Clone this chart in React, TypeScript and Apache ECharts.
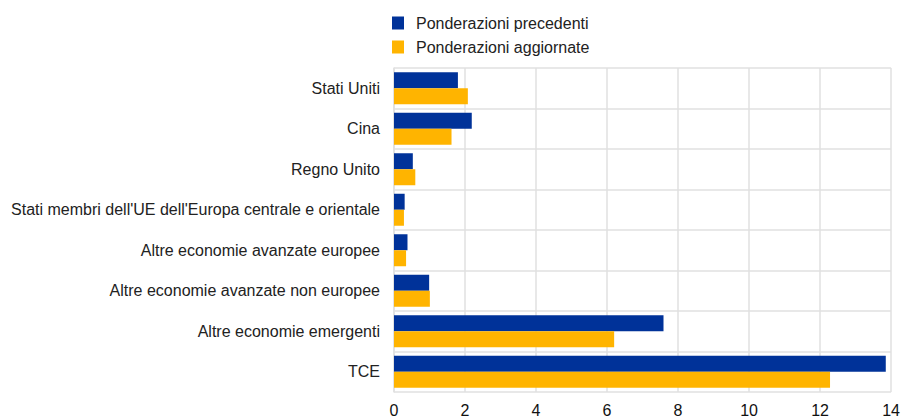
import React, { useEffect, useRef } from "react";
import * as echarts from "echarts";

const categories = [
  "Stati Uniti",
  "Cina",
  "Regno Unito",
  "Stati membri dell'UE dell'Europa centrale e orientale",
  "Altre economie avanzate europee",
  "Altre economie avanzate non europee",
  "Altre economie emergenti",
  "TCE",
];
const previousWeights = [1.8, 2.19, 0.53, 0.3, 0.38, 0.99, 7.59, 13.85];
const updatedWeights = [2.08, 1.62, 0.6, 0.28, 0.34, 1.01, 6.2, 12.28];
const seriesNames = ["Ponderazioni precedenti", "Ponderazioni aggiornate"];

export default function App() {
  const ref = useRef<HTMLDivElement>(null);
  useEffect(() => {
    if (!ref.current) return;
    const chart = echarts.init(ref.current, null, { renderer: "svg" });
    const font = "'Liberation Sans', Arial, sans-serif";
    chart.setOption({
      animation: false,
      textStyle: { fontFamily: font },
      legend: {
        orient: "vertical",
        left: 392,
        top: 15,
        padding: 0,
        itemWidth: 12,
        itemHeight: 13,
        itemGap: 8,
        icon: "rect",
        textStyle: { fontSize: 16, color: "#222", fontFamily: font, padding: [0, 0, 0, 7] },
        data: seriesNames,
      },
      grid: { left: 394, right: 11, top: 68, bottom: 26, containLabel: false },
      xAxis: {
        type: "value",
        min: 0,
        max: 14,
        interval: 2,
        axisLine: { show: false },
        axisTick: { show: false },
        axisLabel: { fontSize: 16, color: "#111", margin: 10, fontFamily: font },
        splitLine: { show: true, lineStyle: { color: "#e0e0e0", width: 1.5 } },
      },
      yAxis: {
        type: "category",
        inverse: true,
        data: categories,
        axisLine: { show: true, lineStyle: { color: "#e0e0e0", width: 1.5 } },
        axisTick: { show: false },
        axisLabel: { fontSize: 16, color: "#222", margin: 14, fontFamily: font },
        splitLine: { show: true, lineStyle: { color: "#e0e0e0", width: 1.5 } },
      },
      series: [
        {
          name: seriesNames[0],
          type: "bar",
          data: previousWeights,
          itemStyle: { color: "#003299" },
          barGap: "0%",
          barCategoryGap: "21%",
        },
        {
          name: seriesNames[1],
          type: "bar",
          data: updatedWeights,
          itemStyle: { color: "#FFB400" },
          barGap: "0%",
          barCategoryGap: "21%",
        },
      ],
    });
    return () => chart.dispose();
  }, []);
  return (
    <div
      ref={ref}
      style={{ position: "absolute", left: 0, top: 0, width: 903, height: 418 }}
    />
  );
}
